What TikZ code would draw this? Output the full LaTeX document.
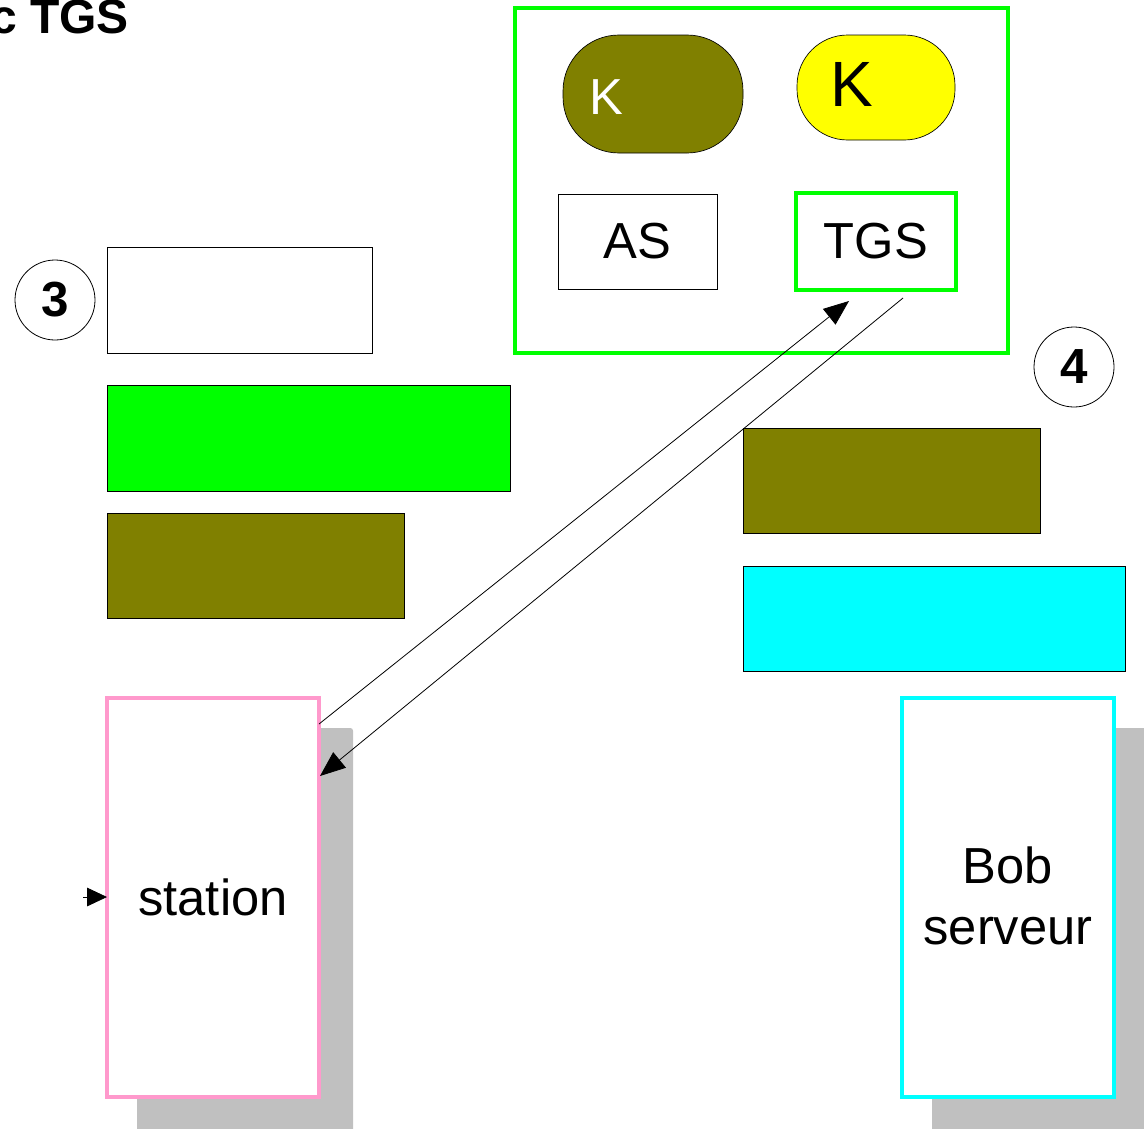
\documentclass[tikz,border=0pt]{standalone}
\usepackage{fontspec}
\setmainfont{Liberation Sans}
\usetikzlibrary{arrows.meta,fit}
\definecolor{olivebox}{HTML}{808000}
\definecolor{brightgreen}{HTML}{00FF00}
\definecolor{brightcyan}{HTML}{00FFFF}
\definecolor{brightyellow}{HTML}{FFFF00}
\definecolor{pinkedge}{HTML}{FF99CC}
\definecolor{shadowgray}{HTML}{C0C0C0}
\begin{document}
\begin{tikzpicture}[x=0.75pt,y=-0.75pt,
  thinbox/.style={draw=black,line width=0.5pt,inner sep=0pt,outer sep=0pt},
  greenedge/.style={draw=brightgreen,line width=2.4pt,inner sep=0pt,outer sep=0pt},
  bigtext/.style={font=\fontsize{38}{46}\selectfont},
  numcircle/.style={circle,draw=black,line width=0.6pt,minimum size=60pt,inner sep=0pt,
    font=\bfseries\fontsize{37}{42}\selectfont},
  hostbox/.style={line width=2.4pt,fill=white,inner sep=0pt,outer sep=0pt,
    align=center,bigtext},
  msg/.style={line width=0.6pt,-{Triangle[length=19pt,width=15pt]}},
  shadow/.style={fill=shadowgray,rounded corners=2pt}]
\useasboundingbox (0,0) rectangle (1144,1128);
\clip (0,0) rectangle (1144,1128);

% heading
\node[anchor=east,inner sep=0pt,font=\bfseries\fontsize{36}{40}\selectfont] (title) at (129,17) {c TGS};

% key distribution centre
\node[greenedge,fit={(515,8) (1008,353)}] (kdc) {};
\node[thinbox,fill=olivebox,rounded corners=42pt,fit={(563,35) (743,153)}] (keyA) {};
\node[text=white,bigtext,inner sep=0pt] (keyAtxt) at (606,97) {K};
\node[thinbox,fill=brightyellow,rounded corners=38pt,fit={(797,35) (955,140)}] (keyT) {};
\node[bigtext,font=\fontsize{48}{56}\selectfont,inner sep=0pt] (keyTtxt) at (852,84) {K};
\node[thinbox,fit={(558,194) (717,289)},bigtext] (as) {};
\node[bigtext,inner sep=0pt] at (as.center) {AS};
\node[greenedge,fit={(796,193) (956,290)}] (tgs) {};
\node[bigtext,inner sep=0pt] at (tgs.center) {TGS};

% message 3
\node[numcircle] (n3) at (55,300) {3};
\node[thinbox,fit={(107,247) (372,353)}] (m3a) {};
\node[thinbox,fill=brightgreen,fit={(107,385) (510,491)}] (m3b) {};
\node[thinbox,fill=olivebox,fit={(107,513) (404,618)}] (m3c) {};

% message 4
\node[numcircle] (n4) at (1074,367) {4};
\node[thinbox,fill=olivebox,fit={(743,428) (1040,533)}] (m4a) {};
\node[thinbox,fill=brightcyan,fit={(743,566) (1125,671)}] (m4b) {};

% hosts with their shadows
\fill[shadow] (137,728) rectangle (353,1140);
\node[hostbox,draw=pinkedge,fit={(107,698) (319,1097)}] (station) {};
\node[bigtext,inner sep=0pt] at (213,897) {station};
\fill[shadow] (932,728) rectangle (1150,1140);
\node[hostbox,draw=brightcyan,fit={(902,698) (1114,1097)}] (bob) {};
\node[bigtext,align=center,inner sep=0pt] at (1008,896) {Bob\\serveur};

% exchanges between the station and the TGS
\coordinate (req) at (319,724);
\coordinate (reqend) at (849,301);
\coordinate (rep) at (903,298);
\coordinate (repend) at (320,776);
\coordinate (entry) at (83,897);
\draw[msg] (req) -- (reqend);
\draw[msg] (rep) -- (repend);
\draw[line width=0.6pt,-{Triangle[length=15pt,width=14pt]}] (entry) -- (station.west |- entry);
\end{tikzpicture}
\end{document}
